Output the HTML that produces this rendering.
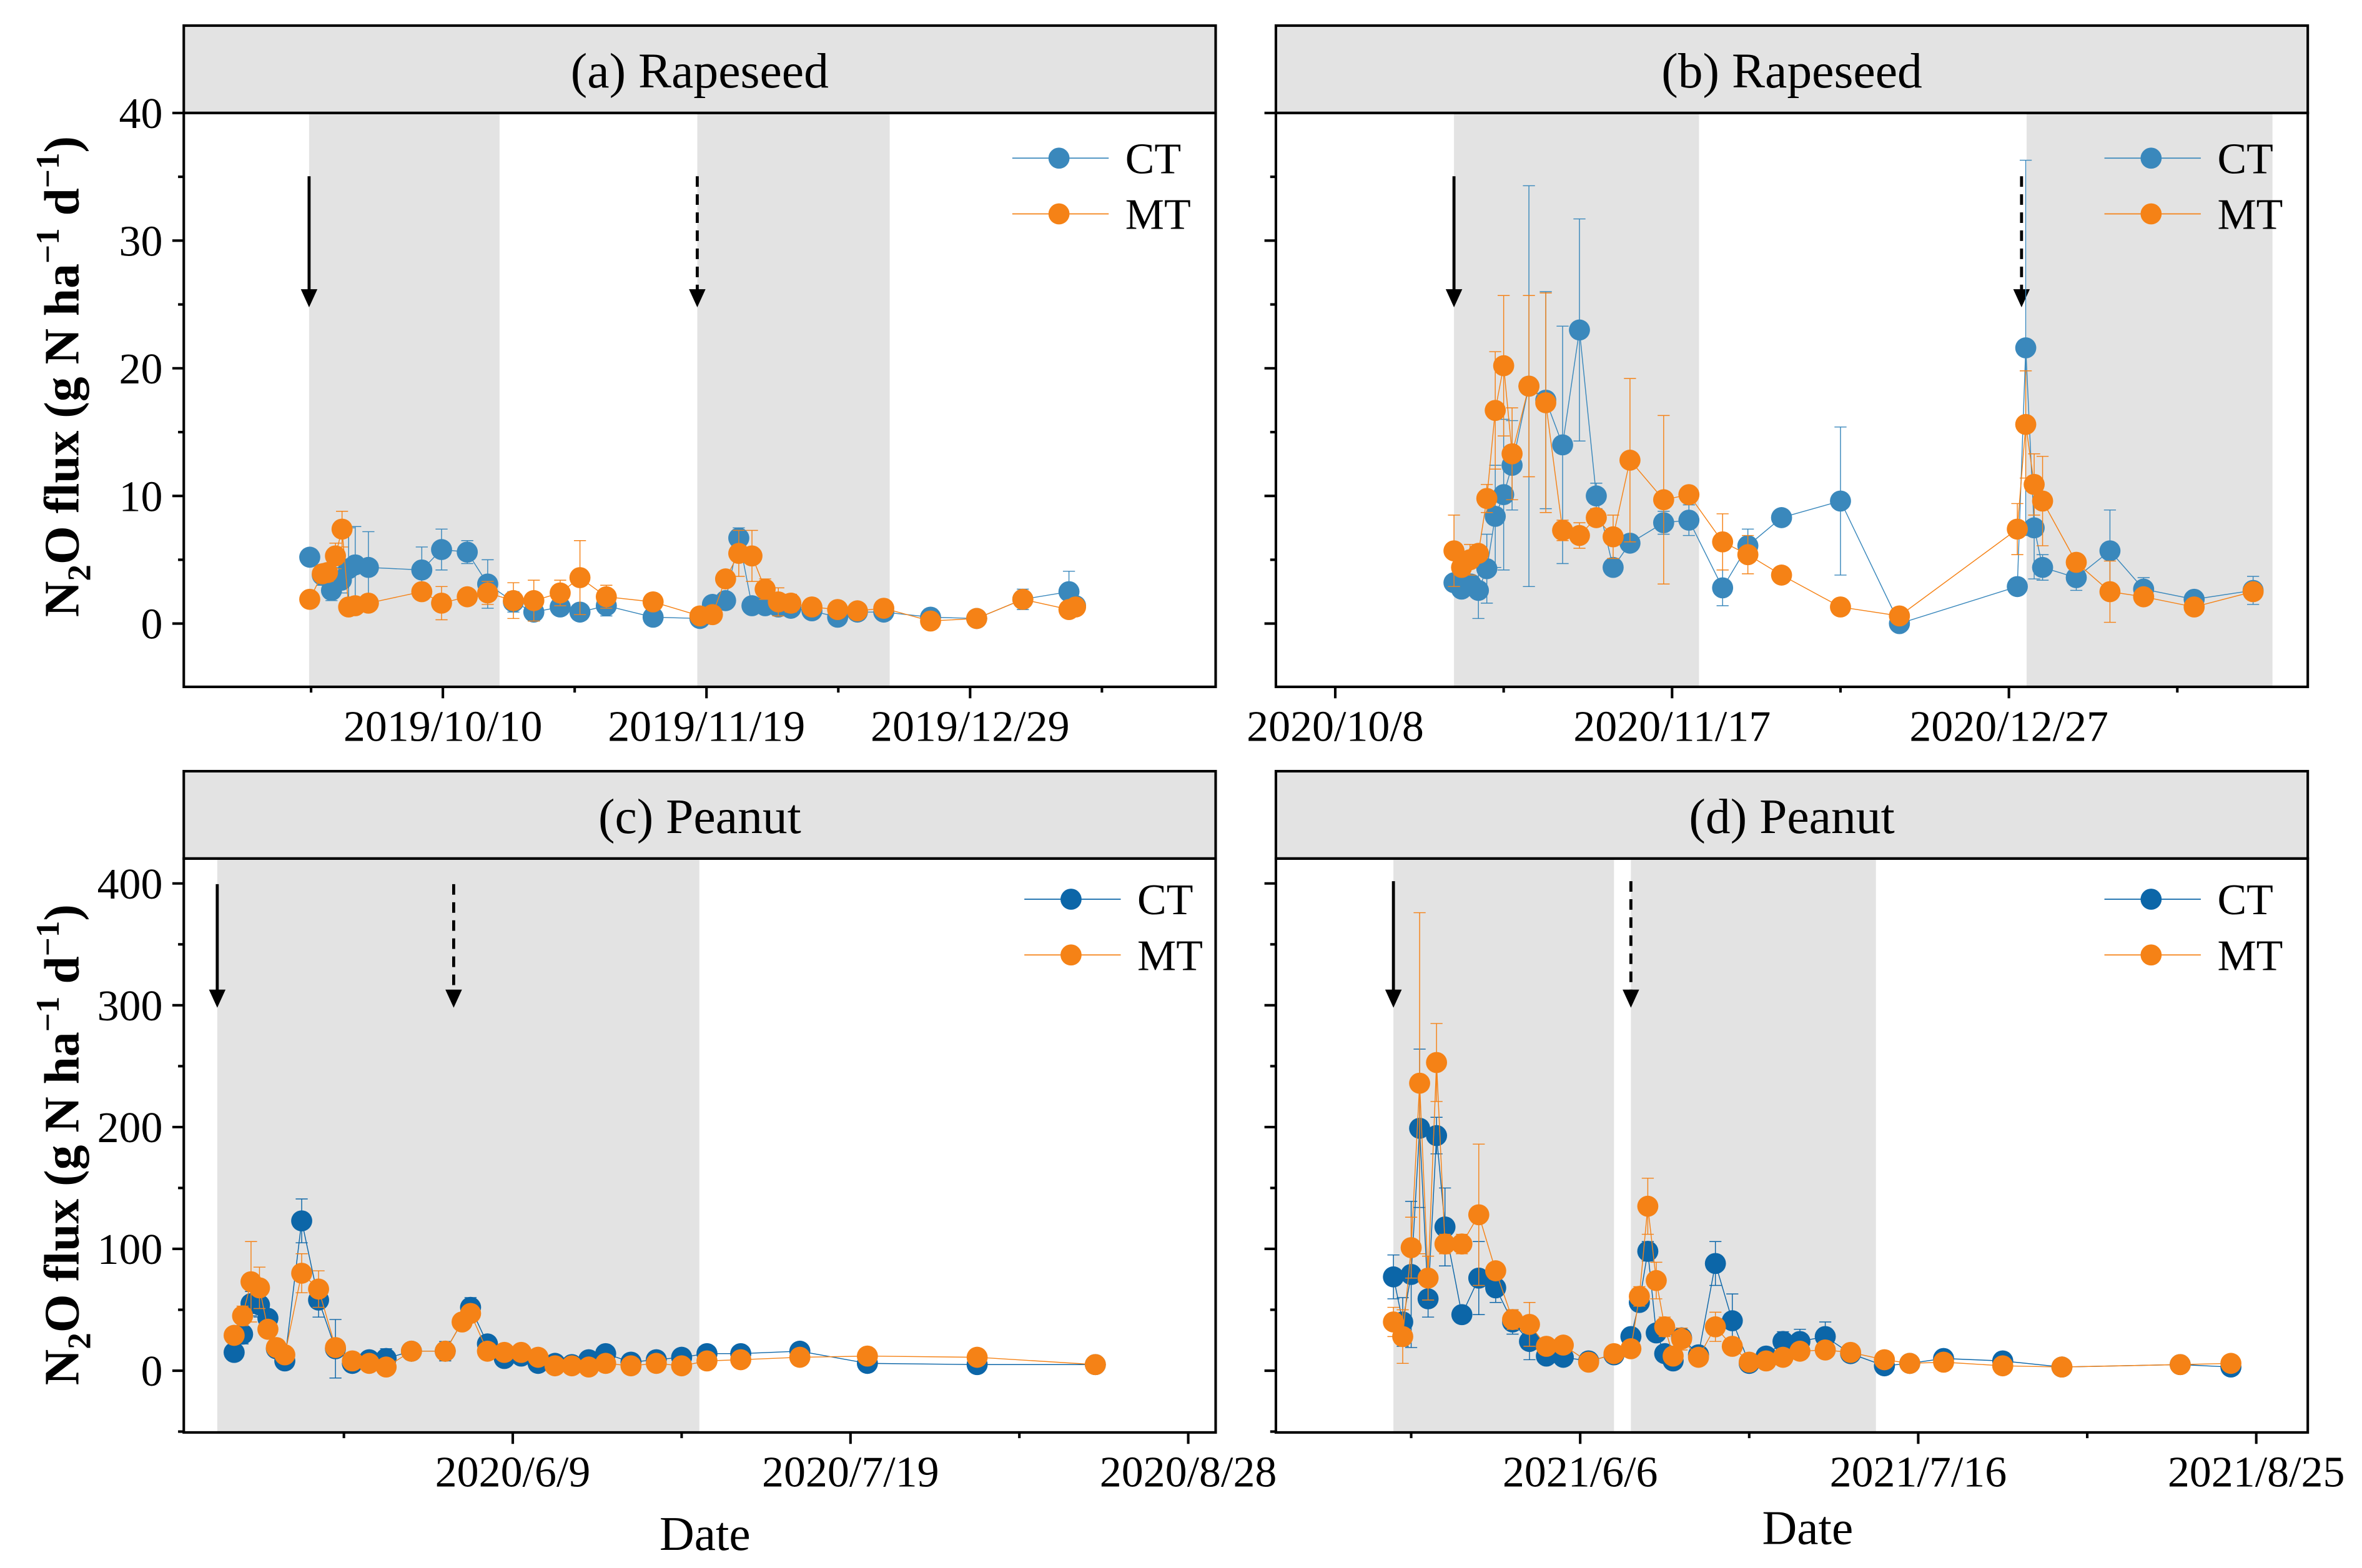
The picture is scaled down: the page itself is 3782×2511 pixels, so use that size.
<!DOCTYPE html>
<html><head><meta charset="utf-8"><style>
html,body{margin:0;padding:0;background:#fff;}
svg{display:block;}
svg text{font-family:"Liberation Serif","Times New Roman",Times,serif;}
</style></head><body>
<svg id="fig" width="3782" height="2511" viewBox="0 0 1568 1041" preserveAspectRatio="none" font-family="Liberation Serif, Times New Roman, serif" xmlns="http://www.w3.org/2000/svg"></svg>
<script>
// ---------- DATA (days relative to labelled reference tick) ----------
// Panel a: days from 2019/10/10
const aCTDays = [-20.2,-18.3,-16.9,-15.4,-14.3,-13.3,-11.3,-3.2,-0.2,3.7,6.8,10.7,13.8,17.8,20.8,24.8,31.9,39,40.9,42.9,44.9,46.9,48.9,50.9,52.8,56,59.9,62.9,66.9,74,81,88,95,96];
const aCTVals = [5.2,3.8,2.6,3.4,4.3,4.6,4.4,4.2,5.8,5.6,3.1,1.7,0.9,1.3,0.9,1.4,0.5,0.4,1.5,1.8,6.7,1.4,1.4,1.3,1.2,1.0,0.5,0.9,0.9,0.5,0.4,1.9,2.5,1.4];
const aCTErr  = [0.6,0.8,0.8,1.0,3.2,3.0,2.8,1.8,1.6,0.9,1.9,0.8,0.7,0.6,0.5,0.8,0.4,0.3,0.6,0.5,0.8,0.5,0.4,0.4,0.3,0.3,0.3,0.3,0.3,0.3,0.3,0.8,1.6,0.4];
const aMTDays = [-20.2,-18.3,-17.5,-16.3,-15.3,-14.3,-13.3,-11.3,-3.2,-0.2,3.7,6.8,10.7,13.8,17.8,20.8,24.8,31.9,39,40.9,42.9,44.9,46.9,48.9,50.9,52.8,56,59.9,62.9,66.9,74,81,88,95,96];
const aMTVals = [1.9,3.9,4.0,5.3,7.4,1.3,1.4,1.6,2.5,1.6,2.1,2.4,1.8,1.8,2.4,3.6,2.1,1.7,0.6,0.7,3.5,5.5,5.3,2.7,1.7,1.6,1.3,1.1,1.0,1.2,0.2,0.4,1.9,1.1,1.3];
const aMTErr  = [0.4,0.6,0.7,1.0,1.4,0.5,0.4,0.5,0.6,1.3,0.6,0.9,1.4,1.6,1.0,2.9,0.9,0.5,0.3,0.3,0.5,1.8,2.0,0.8,1.1,0.7,0.4,0.3,0.3,0.3,0.3,0.3,0.6,0.4,0.4];
// Panel b: days from 2020/11/17
const bCTDays = [-25.9,-25,-23.9,-23,-22,-21,-20,-19,-17,-15,-13,-11,-9,-7,-5,-1,2,6,9,13,20,27,41,42,43,44,48,52,56,62,69];
const bCTVals = [3.2,2.7,3.1,2.6,4.3,8.4,10.1,12.4,18.6,17.5,14.0,23.0,10.0,4.4,6.3,7.9,8.1,2.8,6.1,8.3,9.6,0,2.9,21.6,7.5,4.4,3.6,5.7,2.7,1.9,2.6];
const bCTErr  = [0.4,0.5,0.5,2.2,2.7,4.0,5.9,3.5,15.7,8.5,9.3,8.7,1.0,0.4,0.4,0.9,1.2,1.4,1.3,0.2,5.8,0.3,0.4,14.7,4.0,1.0,1.0,3.2,0.9,0.4,1.1];
const bMTDays = [-25.9,-25,-24,-23,-22,-21,-20,-19,-17,-15,-13,-11,-9,-7,-5,-1,2,6,9,13,20,27,41,42,43,44,48,52,56,62,69];
const bMTVals = [5.7,4.4,5.0,5.5,9.8,16.7,20.2,13.3,18.6,17.3,7.3,6.9,8.3,6.8,12.8,9.7,10.1,6.4,5.4,3.8,1.3,0.6,7.4,15.6,10.9,9.6,4.8,2.5,2.1,1.3,2.5];
const bMTErr  = [2.8,0.5,1.2,0.6,1.1,4.6,5.5,3.6,7.1,8.6,0.8,1.0,0.4,1.7,6.4,6.6,0.5,2.2,1.5,0.4,0.4,0.2,2.0,4.2,2.4,3.5,0.6,2.4,0.4,0.4,0.4];
// Panel c: days from 2020/6/9
const cCTDays = [-33,-32,-31,-30,-29,-28,-27,-25,-23,-21,-19,-17,-15,-12,-8,-5,-3,-1,1,3,5,7,9,11,14,17,20,23,27,34,42,55,69];
const cCTVals = [15,30,55,54,43,18,8,123,58,18,6,9,10,16,16,52,22,10,12,6,6,5,9,14,7,9,11,14,14,16,6,5,5];
const cCTErr  = [4,8,10,10,6,5,4,18,14,24,3,3,8,6,8,8,5,3,4,3,2,2,3,3,2,2,2,3,3,3,2,2,2];
const cMTDays = [-33,-32,-31,-30,-29,-28,-27,-25,-23,-21,-19,-17,-15,-12,-8,-6,-5,-3,-1,1,3,5,7,9,11,14,17,20,23,27,34,42,55,69];
const cMTVals = [29,45,73,68,34,19,13,80,67,19,8,6,3,16,16,40,47,16,15,15,11,4,4,3,6,4,6,4,8,9,11,12,11,5];
const cMTErr  = [5,8,33,17,6,4,3,16,15,6,3,3,3,5,7,6,4,4,3,3,3,2,2,2,2,2,2,2,2,2,2,2,2,2];
// Panel d: days from 2021/6/6
const dCTDays = [-22.1,-21,-20,-19,-18,-17,-16,-14,-12,-10,-8,-6,-4,-2,1,4,6,7,8,9,10,11,12,14,16,18,20,22,24,26,29,32,36,39,43,50,57,71,77];
const dCTVals = [77,40,79,199,59,193,118,46,76,68,40,24,12,11,8,13,28,56,98,31,14,8,27,13,88,41,6,12,24,24,28,14,4,6,10,8,3,5,3];
const dCTErr  = [18,20,60,65,15,15,32,6,30,12,10,15,6,4,3,4,4,6,8,4,5,6,8,4,18,22,3,5,8,10,12,5,3,3,3,3,3,2,2];
const dMTDays = [-22.1,-21,-20,-19,-18,-17,-16,-14,-12,-10,-8,-6,-4,-2,1,4,6,7,8,9,10,11,12,14,16,18,20,22,24,26,29,32,36,39,43,50,57,71,77];
const dMTVals = [40,28,101,236,76,253,104,104,128,82,42,38,20,21,7,14,18,61,135,74,36,12,26,11,36,20,7,8,11,16,17,15,9,6,7,4,3,5,6];
const dMTErr  = [12,22,25,140,18,32,8,8,58,6,8,18,6,5,3,4,4,8,23,15,8,6,9,3,12,6,3,3,4,5,4,5,3,3,3,2,2,2,2];
// Tick labels (label day offsets relative to each panel's reference date)
const aXLabels = ["2019/10/10","2019/11/19","2019/12/29"];
const aXLabelDays = [0,40,80];
const bXLabels = ["2020/10/8","2020/11/17","2020/12/27"];
const bXLabelDays = [-40,0,40];
const cXLabels = ["2020/6/9","2020/7/19","2020/8/28"];
const cXLabelDays = [0,40,80];
const dXLabels = ["2021/6/6","2021/7/16","2021/8/25"];
const dXLabelDays = [0,40,80];
const rapeYTicks = [0,10,20,30,40];
const peanutYTicks = [0,100,200,300,400];

// ---------- DRAWING ----------
const NS="http://www.w3.org/2000/svg";
const svg=document.getElementById('fig');
const FONT="Liberation Serif, Times New Roman, serif";
function mk(tag,attrs,parent){const e=document.createElementNS(NS,tag);for(const k in attrs)e.setAttribute(k,attrs[k]);if(tag==='text')e.setAttribute('font-family',FONT);(parent||svg).appendChild(e);return e;}
const CT_LIGHT="#3a88bc", CT_DARK="#0c66a8", MT="#f58216", SHADE="#e3e3e3";

function panel(cfg){
  const g=mk('g',{});
  
  
  const X=d=>cfg.x0+d*cfg.pxPerDay;
  const Y=v=>cfg.y0-v*cfg.pxPerUnit;
  cfg.shades.forEach((s,i)=>{
    const r=mk('rect',{x:X(s[0]),y:cfg.top,width:X(s[1])-X(s[0]),height:cfg.bottom-cfg.top,fill:SHADE},g);
    
    
  });
  const st=mk('rect',{x:cfg.left,y:cfg.stripTop,width:cfg.right-cfg.left,height:cfg.top-cfg.stripTop,fill:SHADE,stroke:'#000','stroke-width':1.7},g);
  
  
  const tt=mk('text',{x:(cfg.left+cfg.right)/2,y:cfg.stripTop+41,'text-anchor':'middle','font-size':33,fill:'#000'},g);
  tt.textContent=cfg.title;
  
  
  cfg.arrows.forEach((a,i)=>{
    const ax=X(a.d);
    const ln=mk('line',{x1:ax,y1:cfg.arrowTop,x2:ax,y2:cfg.arrowTip-10,stroke:'#000','stroke-width':2},g);
    if(a.dashed) ln.setAttribute('stroke-dasharray','7,5');
    
    
    const hd=mk('polygon',{points:`${ax-5.5},${cfg.arrowTip-12} ${ax+5.5},${cfg.arrowTip-12} ${ax},${cfg.arrowTip}`,fill:'#000'},g);
    
    
  });
  cfg.series.forEach(s=>{
    const sg=mk('g',{},g);
    
    
    const pts=s.days.map((d,i)=>[X(d),Y(s.vals[i])]);
    const pl=mk('polyline',{points:pts.map(p=>p.join(',')).join(' '),fill:'none',stroke:s.color,'stroke-width':0.6},sg);
    
    
    s.days.forEach((d,i)=>{
      const x=X(d), y1=Y(s.vals[i]-s.err[i]), y2=Y(s.vals[i]+s.err[i]);
      const eb=mk('path',{d:`M${x},${y1}V${y2}M${x-4},${y2}H${x+4}M${x-4},${y1}H${x+4}`,stroke:s.color,'stroke-width':0.6,fill:'none'},sg);
      
      
    });
    s.days.forEach((d,i)=>{
      const c=mk('circle',{cx:X(d),cy:Y(s.vals[i]),r:7,fill:s.color},sg);
      
      
    });
  });
  const lg=mk('g',{},g);
  
  
  cfg.series.forEach((s,i)=>{
    const ly=cfg.legY+i*37;
    const l=mk('line',{x1:cfg.legX,y1:ly,x2:cfg.legX+64,y2:ly,stroke:s.color,'stroke-width':0.7},lg);
    
    
    const c=mk('circle',{cx:cfg.legX+31,cy:ly,r:7,fill:s.color},lg);
    
    
    const t=mk('text',{x:cfg.legX+75,y:ly+10,'font-size':29,fill:'#000'},lg);
    t.textContent=s.key;
    
    
  });
  const fr=mk('rect',{x:cfg.left,y:cfg.top,width:cfg.right-cfg.left,height:cfg.bottom-cfg.top,fill:'none',stroke:'#000','stroke-width':1.7},g);
  
  
  cfg.yTicks.forEach((v,i)=>{
    const y=Y(v);
    const t=mk('line',{x1:cfg.left-7.6,y1:y,x2:cfg.left,y2:y,stroke:'#000','stroke-width':1.7},g);
    
    
    const my=Y(v-cfg.yMinorStep);
    if(my<cfg.bottom){
      const m=mk('line',{x1:cfg.left-3.8,y1:my,x2:cfg.left,y2:my,stroke:'#000','stroke-width':1.7},g);
      
      
    }
    if(cfg.yLabels){
      const lt=mk('text',{x:cfg.left-14,y:y+10,'text-anchor':'end','font-size':29,fill:'#000'},g);
      lt.textContent=String(v);
      
      
    }
  });
  for(let k=-6;k<=6;k++){
    const d=k*20, x=X(d);
    if(x<cfg.left+1||x>cfg.right-1) continue;
    const major=(k%2===0);
    const t=mk('line',{x1:x,y1:cfg.bottom,x2:x,y2:cfg.bottom+(major?7.6:3.8),stroke:'#000','stroke-width':1.7},g);
    
    
  }
  cfg.xLabels.forEach((lab,i)=>{
    const x=X(cfg.xLabelDays[i]);
    const lt=mk('text',{x:x,y:cfg.bottom+36,'text-anchor':'middle','font-size':29,fill:'#000'},g);
    lt.textContent=lab;
    
    
  });
}

const rapeY={y0:414,pxPerUnit:8.475,yMinorStep:5};
const peanutY={y0:910,pxPerUnit:0.8087,yMinorStep:50};

panel(Object.assign({name:'panel-a-rapeseed',title:'(a) Rapeseed',left:122,right:807,stripTop:17,top:75,bottom:456,
  x0:294,pxPerDay:4.375,shades:[[-20.3,8.6],[38.6,67.8]],arrows:[{d:-20.3,dashed:false},{d:38.6,dashed:true}],
  arrowTop:117,arrowTip:204,legX:672,legY:105,yTicks:rapeYTicks,yLabels:true,xLabels:aXLabels,xLabelDays:aXLabelDays,
  series:[{key:'CT',color:CT_LIGHT,days:aCTDays,vals:aCTVals,err:aCTErr},{key:'MT',color:MT,days:aMTDays,vals:aMTVals,err:aMTErr}]},rapeY));

panel(Object.assign({name:'panel-b-rapeseed',title:'(b) Rapeseed',left:847,right:1532,stripTop:17,top:75,bottom:456,
  x0:1110,pxPerDay:5.59,shades:[[-25.9,3.2],[42.1,71.3]],arrows:[{d:-25.9,dashed:false},{d:41.5,dashed:true}],
  arrowTop:117,arrowTip:204,legX:1397,legY:105,yTicks:rapeYTicks,yLabels:false,xLabels:bXLabels,xLabelDays:bXLabelDays,
  series:[{key:'CT',color:CT_LIGHT,days:bCTDays,vals:bCTVals,err:bCTErr},{key:'MT',color:MT,days:bMTDays,vals:bMTVals,err:bMTErr}]},rapeY));

panel(Object.assign({name:'panel-c-peanut',title:'(c) Peanut',left:122,right:807,stripTop:512,top:570,bottom:951,
  x0:340.4,pxPerDay:5.605,shades:[[-35,22.1]],arrows:[{d:-35,dashed:false},{d:-7,dashed:true}],
  arrowTop:587,arrowTip:669,legX:680,legY:597,yTicks:peanutYTicks,yLabels:true,xLabels:cXLabels,xLabelDays:cXLabelDays,
  series:[{key:'CT',color:CT_DARK,days:cCTDays,vals:cCTVals,err:cCTErr},{key:'MT',color:MT,days:cMTDays,vals:cMTVals,err:cMTErr}]},peanutY));

panel(Object.assign({name:'panel-d-peanut',title:'(d) Peanut',left:847,right:1532,stripTop:512,top:570,bottom:951,
  x0:1049,pxPerDay:5.61,shades:[[-22.1,4],[6,35]],arrows:[{d:-22.1,dashed:false},{d:6,dashed:true}],
  arrowTop:585,arrowTip:669,legX:1397,legY:597,yTicks:peanutYTicks,yLabels:false,xLabels:dXLabels,xLabelDays:dXLabelDays,
  series:[{key:'CT',color:CT_DARK,days:dCTDays,vals:dCTVals,err:dCTErr},{key:'MT',color:MT,days:dMTDays,vals:dMTVals,err:dMTErr}]},peanutY));

function yTitle(cy,name){
  const t=mk('text',{transform:`translate(52,${cy}) rotate(-90)`,'text-anchor':'middle','font-size':33,'font-weight':'bold',fill:'#000'});
  t.innerHTML='N<tspan font-size="22" dy="8">2</tspan><tspan dy="-8">O flux (g N ha</tspan><tspan font-size="22" dy="-13">−1</tspan><tspan dy="13"> d</tspan><tspan font-size="22" dy="-13">−1</tspan><tspan dy="13">)</tspan>';
  
  
}
yTitle(250,'y-axis-title-top');
yTitle(760,'y-axis-title-bottom');
function xTitle(x,y,name){
  const t=mk('text',{x:x,y:y,'text-anchor':'middle','font-size':32,fill:'#000'});
  t.textContent='Date';
  
  
}
xTitle(468,1029,'x-axis-title-left');
xTitle(1200,1025,'x-axis-title-right');
</script>
</body></html>
